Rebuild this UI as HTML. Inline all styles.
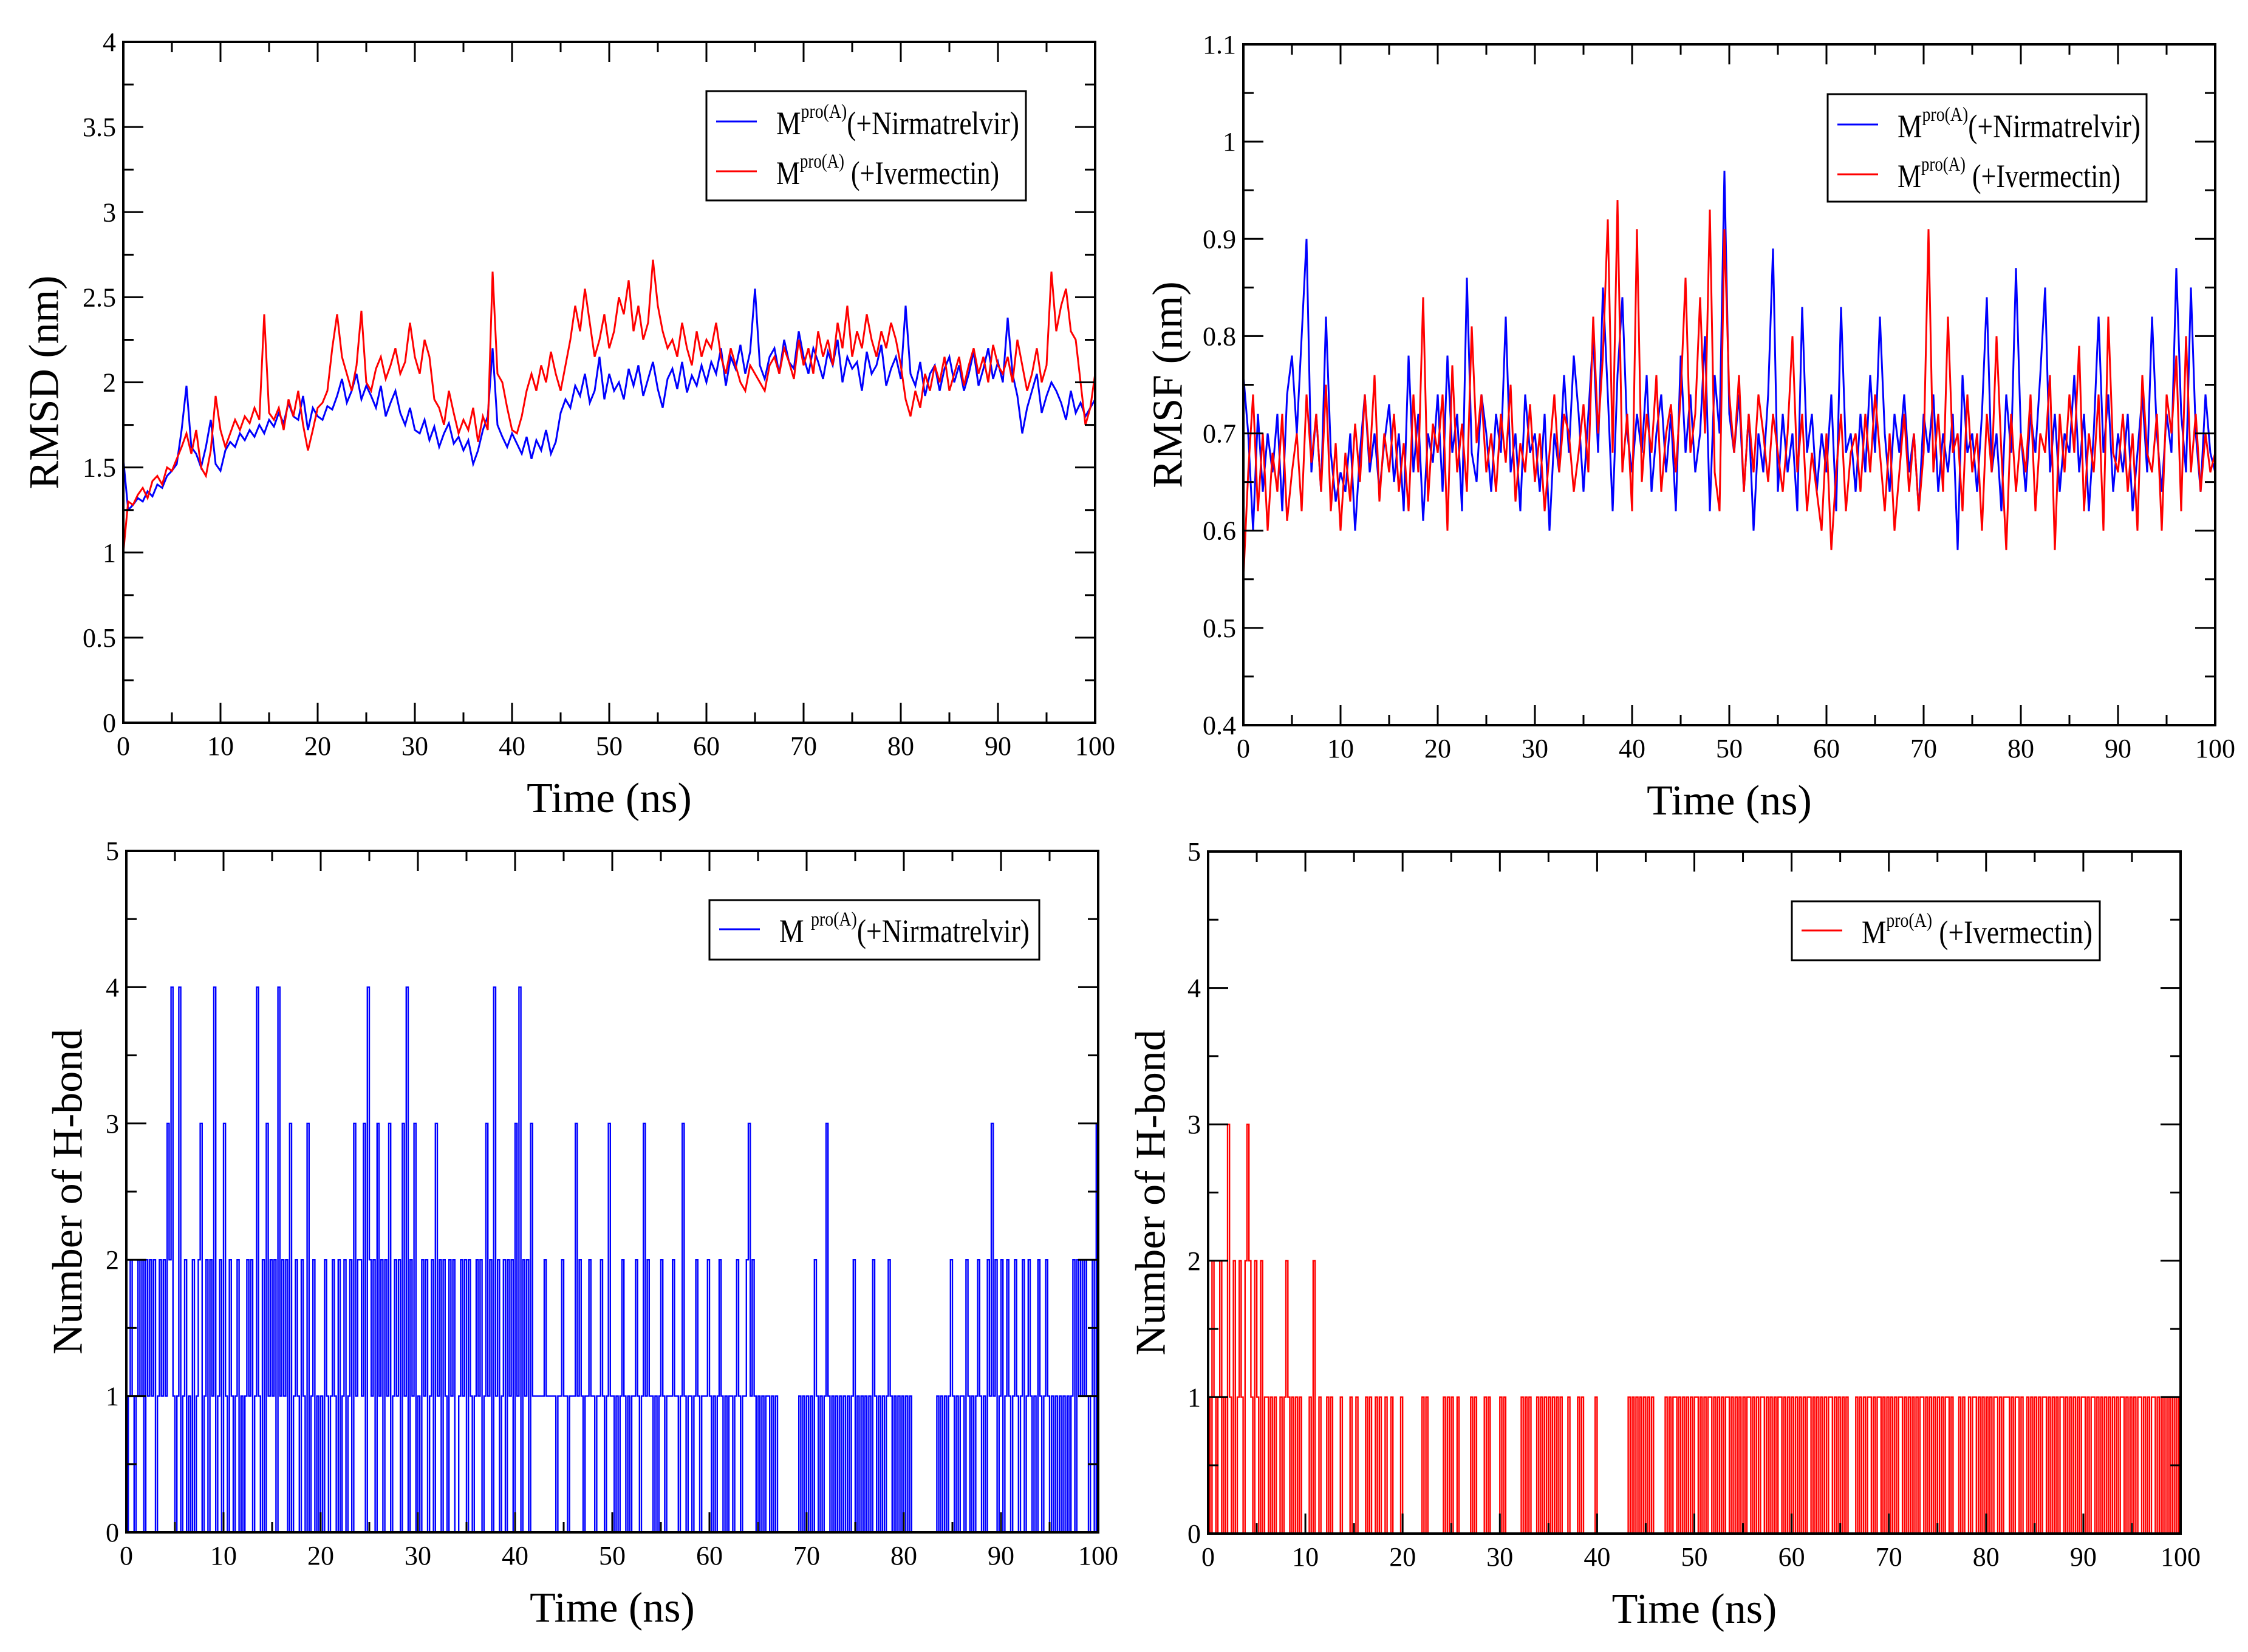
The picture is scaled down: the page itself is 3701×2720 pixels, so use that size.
<!DOCTYPE html>
<html><head><meta charset="utf-8"><style>
html,body{margin:0;padding:0;background:#fff}
svg{display:block}
text{font-family:"Liberation Serif",serif;fill:#000}
</style></head><body>
<svg id="fig" xmlns="http://www.w3.org/2000/svg" width="3701" height="2720" viewBox="0 0 3701 2720">
<rect width="3701" height="2720" fill="#fff"/>
</svg>
<script>
const rmsdNirma=[1.55,1.25,1.28,1.32,1.30,1.36,1.33,1.40,1.38,1.45,1.48,
1.52,1.72,1.98,1.62,1.58,1.50,1.62,1.78,1.52,1.48,
1.60,1.65,1.62,1.70,1.66,1.72,1.68,1.75,1.70,1.78,
1.74,1.82,1.76,1.88,1.80,1.78,1.92,1.72,1.85,1.80,
1.78,1.86,1.84,1.92,2.02,1.88,1.95,2.05,1.90,1.98,
1.92,1.85,1.98,1.80,1.88,1.95,1.82,1.75,1.85,1.72,
1.70,1.78,1.66,1.74,1.62,1.70,1.76,1.64,1.68,1.60,
1.66,1.52,1.60,1.72,1.80,2.20,1.75,1.68,1.62,1.70,
1.64,1.58,1.68,1.55,1.66,1.60,1.72,1.58,1.65,1.82,
1.90,1.85,1.98,1.92,2.05,1.88,1.95,2.15,1.90,2.05,
1.95,2.00,1.90,2.08,1.98,2.10,1.92,2.02,2.12,1.96,
1.85,2.02,2.08,1.96,2.12,1.94,2.04,1.98,2.10,2.00,
2.12,2.05,2.20,1.98,2.15,2.08,2.22,2.05,2.18,2.55,
2.10,2.02,2.15,2.20,2.05,2.25,2.12,2.08,2.30,2.15,
2.05,2.20,2.12,2.02,2.18,2.10,2.25,2.00,2.15,2.08,
2.12,1.95,2.18,2.05,2.10,2.22,1.98,2.08,2.15,2.02,
2.45,2.05,1.98,2.12,1.92,2.05,2.10,1.95,2.08,2.15,
2.00,2.10,1.95,2.05,2.18,1.98,2.08,2.20,2.02,2.12,
2.00,2.38,2.05,1.92,1.70,1.85,1.95,2.05,1.82,1.92,
2.00,1.95,1.88,1.78,1.95,1.82,1.88,1.80,1.85,1.90];
const rmsdIver=[1.00,1.30,1.28,1.34,1.38,1.32,1.42,1.45,1.40,1.50,1.48,
1.55,1.62,1.70,1.58,1.72,1.50,1.45,1.60,1.92,1.72,
1.62,1.70,1.78,1.72,1.80,1.76,1.85,1.78,2.40,1.82,
1.78,1.85,1.72,1.90,1.80,1.95,1.75,1.60,1.72,1.85,
1.88,1.95,2.20,2.40,2.15,2.05,1.95,2.10,2.42,2.00,
1.95,2.08,2.15,2.02,2.10,2.20,2.05,2.12,2.35,2.15,
2.05,2.25,2.15,1.90,1.85,1.75,1.95,1.82,1.70,1.78,
1.72,1.85,1.65,1.80,1.72,2.65,2.05,2.00,1.85,1.72,
1.70,1.80,1.95,2.05,1.95,2.10,2.00,2.18,2.05,1.95,
2.10,2.25,2.45,2.30,2.55,2.35,2.15,2.25,2.40,2.20,
2.30,2.50,2.40,2.60,2.30,2.45,2.25,2.35,2.72,2.45,
2.30,2.20,2.25,2.15,2.35,2.20,2.10,2.30,2.15,2.25,
2.20,2.35,2.15,2.05,2.20,2.10,2.00,1.95,2.10,2.05,
2.00,1.95,2.10,2.15,2.05,2.20,2.12,2.02,2.25,2.10,
2.20,2.05,2.30,2.15,2.25,2.10,2.35,2.20,2.45,2.15,
2.30,2.20,2.40,2.25,2.15,2.30,2.20,2.35,2.25,2.10,
1.90,1.80,1.95,1.85,2.05,1.95,2.10,2.00,2.15,1.95,
2.05,2.15,1.98,2.10,2.20,2.05,2.15,2.00,2.22,2.10,
2.05,2.15,2.00,2.25,2.10,1.95,2.05,2.20,2.00,2.10,
2.65,2.30,2.45,2.55,2.30,2.25,2.00,1.75,1.85,2.05];
const rmsfNirma=[0.76,0.70,0.60,0.72,0.64,0.70,0.66,0.72,0.62,0.74,0.78,
0.70,0.80,0.90,0.66,0.72,0.64,0.82,0.68,0.63,0.66,
0.64,0.70,0.60,0.68,0.74,0.66,0.70,0.64,0.69,0.73,
0.65,0.70,0.62,0.78,0.66,0.72,0.61,0.70,0.67,0.74,
0.64,0.78,0.68,0.72,0.62,0.86,0.68,0.65,0.74,0.70,
0.64,0.72,0.68,0.82,0.66,0.70,0.62,0.74,0.68,0.70,
0.64,0.72,0.60,0.70,0.66,0.76,0.68,0.78,0.72,0.64,
0.72,0.80,0.68,0.85,0.74,0.62,0.76,0.84,0.70,0.66,
0.72,0.68,0.76,0.64,0.70,0.74,0.66,0.72,0.62,0.78,
0.68,0.74,0.66,0.70,0.80,0.62,0.76,0.70,0.97,0.72,
0.68,0.74,0.64,0.72,0.60,0.70,0.66,0.74,0.89,0.64,
0.72,0.66,0.70,0.62,0.83,0.68,0.72,0.64,0.70,0.66,
0.74,0.62,0.83,0.68,0.70,0.64,0.72,0.66,0.76,0.68,
0.82,0.70,0.64,0.72,0.68,0.74,0.66,0.70,0.62,0.72,
0.68,0.74,0.64,0.70,0.66,0.72,0.58,0.76,0.68,0.70,
0.64,0.72,0.84,0.66,0.70,0.62,0.74,0.68,0.87,0.70,
0.64,0.72,0.68,0.76,0.85,0.66,0.72,0.64,0.70,0.68,
0.76,0.66,0.72,0.62,0.70,0.82,0.68,0.74,0.64,0.70,
0.66,0.72,0.62,0.68,0.74,0.66,0.82,0.70,0.64,0.72,
0.68,0.87,0.72,0.66,0.85,0.70,0.64,0.74,0.68,0.66];
const rmsfIver=[0.55,0.66,0.74,0.62,0.70,0.60,0.68,0.64,0.72,0.61,0.66,
0.70,0.62,0.74,0.67,0.72,0.64,0.75,0.62,0.69,0.60,
0.68,0.63,0.71,0.65,0.74,0.67,0.76,0.63,0.70,0.66,
0.72,0.64,0.69,0.62,0.74,0.66,0.84,0.63,0.71,0.68,
0.74,0.60,0.77,0.66,0.71,0.64,0.81,0.69,0.74,0.66,
0.70,0.64,0.72,0.67,0.75,0.63,0.69,0.66,0.73,0.65,
0.70,0.62,0.68,0.74,0.66,0.72,0.70,0.64,0.68,0.73,
0.66,0.82,0.70,0.78,0.92,0.68,0.94,0.66,0.72,0.62,
0.91,0.65,0.72,0.68,0.76,0.64,0.70,0.73,0.66,0.74,
0.86,0.68,0.72,0.84,0.70,0.93,0.66,0.62,0.91,0.74,
0.68,0.76,0.64,0.72,0.66,0.74,0.70,0.65,0.72,0.68,
0.64,0.70,0.80,0.66,0.72,0.62,0.68,0.64,0.60,0.70,
0.58,0.66,0.72,0.62,0.68,0.70,0.64,0.72,0.66,0.74,
0.68,0.62,0.70,0.60,0.66,0.72,0.64,0.70,0.62,0.68,
0.91,0.66,0.72,0.64,0.82,0.68,0.70,0.62,0.74,0.66,
0.70,0.60,0.72,0.66,0.80,0.68,0.58,0.72,0.64,0.70,
0.66,0.74,0.62,0.70,0.68,0.76,0.58,0.72,0.66,0.74,
0.68,0.79,0.62,0.70,0.66,0.74,0.60,0.82,0.68,0.66,
0.72,0.64,0.70,0.60,0.76,0.68,0.66,0.72,0.60,0.74,
0.70,0.78,0.62,0.80,0.66,0.72,0.64,0.70,0.66,0.68];
const hbondNirma=("0121012120 2121201212 1324101401 2010201230 1202140120 3102101201 0121201410 2031212041 2120301210 2103012010 "+
"1021012102 0120120312 2130421203 1202130121 2031402130 1021201203 1202102120 0121202101 2120131204 1201202120 "+
"3140212031 1111121111 1011211011 1312101121 1011210131 1010121010 1121013121 1010121011 1211013101 1012101112 "+
"1010121010 1101210112 3121010101 1010100000 0000001010 1010210101 3101010101 0101201010 1010210101 0121010101 "+
"0101000000 0000000101 0101210101 1021010121 0102131201 2012101210 1201210102 1012101010 1010101202 1212101203").replace(/ /g,'').split('').map(Number);
const hbondIver=("1021012010 3102012102 3210210201 1010100101 2101010100 0010200100 0101000010 0001001000 0101001010 0100100001 "+
"0000000000 1010000000 0101010010 0000010100 0010100000 1010000000 0101010001 0101010101 0100010000 1010000001 "+
"0000000000 0000001010 1010101010 0000010101 1010101010 1101010110 1010101101 0101010110 1010110101 0101101010 "+
"1010101011 0101010101 1010101010 0001010101 1010110101 0101011010 1010101101 0101010101 1010001010 0101101010 "+
"1010110101 1101011010 0101010101 1010101011 0101010101 1010110101 0101010101 1010101011 0101011010 1010101010").replace(/ /g,'').split('').map(Number);
const xTickLabels=["0","10","20","30","40","50","60","70","80","90","100"];
const rmsdTickLabels=["0","0.5","1","1.5","2","2.5","3","3.5","4"];
const rmsfTickLabels=["0.4","0.5","0.6","0.7","0.8","0.9","1","1.1"];
const hbTickLabels=["0","1","2","3","4","5"];

const NS="http://www.w3.org/2000/svg";
const svg=document.getElementById('fig');
function mk(tag,attrs,parent){const e=document.createElementNS(NS,tag);for(const k in attrs)e.setAttribute(k,attrs[k]);(parent||svg).appendChild(e);return e;}

function panel(cfg){
  const g=mk('g',{});
  
  
  const {L,R,T,B,ymin,ymax}=cfg;
  const sx=v=>L+(v-0)/(100-0)*(R-L);
  const sy=v=>B-(v-ymin)/(ymax-ymin)*(B-T);
  const cid='clip-'+cfg.name;
  const cp=mk('clipPath',{id:cid},g);mk('rect',{x:L,y:T,width:R-L,height:B-T},cp);
  cfg.series.forEach(s=>{
    const n=s.data.length, step=100/(n-1);
    let d='';
    if(s.step){
      const w=100/n;
      s.data.forEach((v,i)=>{const x0=sx(i*w),x1=sx((i+1)*w),y=sy(v);d+=(i?'L':'M')+x0.toFixed(1)+','+y.toFixed(1)+'L'+x1.toFixed(1)+','+y.toFixed(1);});
    } else {
      s.data.forEach((v,i)=>{d+=(i?'L':'M')+sx(i*step).toFixed(1)+','+sy(v).toFixed(1);});
    }
    const p=mk('path',{d:d,fill:'none',stroke:s.color,'stroke-width':s.step?2.4:3,'clip-path':'url(#'+cid+')'},g);
    
    
  });
  const tk=mk('g',{stroke:'#000','stroke-width':3},g);
  
  
  for(let v=0;v<=100;v+=5){const maj=v%10===0,len=maj?33:17,x=sx(v);
    mk('line',{x1:x,y1:B,x2:x,y2:B-len},tk);mk('line',{x1:x,y1:T,x2:x,y2:T+len},tk);}
  const ny=Math.round((ymax-ymin)/cfg.minor);
  for(let i=0;i<=ny;i++){const v=ymin+i*cfg.minor,maj=i%2===0,len=maj?33:17,y=sy(v);
    mk('line',{x1:L,y1:y,x2:L+len,y2:y},tk);mk('line',{x1:R,y1:y,x2:R-len,y2:y},tk);}
  const fr=mk('rect',{x:L,y:T,width:R-L,height:B-T,fill:'none',stroke:'#000','stroke-width':4},g);
  
  
  xTickLabels.forEach((t,i)=>{const e=mk('text',{x:sx(i*10),y:B+53,'font-size':44,'text-anchor':'middle'},g);e.textContent=t;
    
    });
  cfg.yLabels.forEach((t,i)=>{const e=mk('text',{x:L-12,y:sy(ymin+i*cfg.minor*2)+15,'font-size':44,'text-anchor':'end'},g);e.textContent=t;
    
    });
  const xt=mk('text',{x:(L+R)/2,y:B+147,'font-size':70,'text-anchor':'middle'},g);xt.textContent='Time (ns)';
  
  
  const yc=(T+B)/2;
  const yt=mk('text',{x:cfg.ytx,y:yc,'font-size':70,'text-anchor':'middle','dominant-baseline':'central',transform:'rotate(-90 '+cfg.ytx+' '+yc+')'},g);yt.textContent=cfg.ytitle;
  
  
  const lg=mk('g',{},g);
  
  
  const lb=cfg.legend;
  mk('rect',{x:lb.x,y:lb.y,width:lb.w,height:lb.h,fill:'#fff',stroke:'#000','stroke-width':3},lg);
  lb.items.forEach((it,i)=>{
    const ly=lb.y+lb.first+i*82;
    const ln=mk('line',{x1:lb.x+16,x2:lb.x+83,y1:ly,y2:ly,stroke:it.color,'stroke-width':3},lg);
    
    
    const t=mk('text',{x:lb.x+115,y:ly+21,'font-size':54,textLength:it.len,lengthAdjust:'spacingAndGlyphs'},lg);
    
    
    const a=mk('tspan',{},t);a.textContent='M'+(it.space?' ':'');
    const b=mk('tspan',{dy:-27,'font-size':33},t);b.textContent='pro(A)';
    const c=mk('tspan',{dy:27},t);c.textContent=(it.gap?' ':'')+it.label;
  });
}

panel({name:'rmsd-panel',L:203,R:1803,T:69,B:1190,ymin:0,ymax:4,minor:0.25,yLabels:rmsdTickLabels,ytitle:'RMSD (nm)',ytx:73,
  series:[{name:'rmsd-nirmatrelvir-line',data:rmsdNirma,color:'#0000ff'},{name:'rmsd-ivermectin-line',data:rmsdIver,color:'#ff0000'}],
  legend:{x:1163,y:150,w:526,h:180,first:50,items:[{color:'#0000ff',label:'(+Nirmatrelvir)',len:400},{color:'#ff0000',label:'(+Ivermectin)',gap:true,len:367}]}});
panel({name:'rmsf-panel',L:2047,R:3647,T:73,B:1194,ymin:0.4,ymax:1.1,minor:0.05,yLabels:rmsfTickLabels,ytitle:'RMSF (nm)',ytx:1923,
  series:[{name:'rmsf-nirmatrelvir-line',data:rmsfNirma,color:'#0000ff'},{name:'rmsf-ivermectin-line',data:rmsfIver,color:'#ff0000'}],
  legend:{x:3009,y:155,w:525,h:177,first:50,items:[{color:'#0000ff',label:'(+Nirmatrelvir)',len:400},{color:'#ff0000',label:'(+Ivermectin)',gap:true,len:367}]}});
panel({name:'hbond-nirmatrelvir-panel',L:208,R:1808,T:1401,B:2523,ymin:0,ymax:5,minor:0.5,yLabels:hbTickLabels,ytitle:'Number of H-bond',ytx:112,
  series:[{name:'hbond-nirmatrelvir-line',data:hbondNirma,color:'#0000ff',step:true}],
  legend:{x:1168,y:1482,w:543,h:98,first:48,items:[{color:'#0000ff',label:'(+Nirmatrelvir)',space:true,len:412}]}});
panel({name:'hbond-ivermectin-panel',L:1989,R:3590,T:1402,B:2525,ymin:0,ymax:5,minor:0.5,yLabels:hbTickLabels,ytitle:'Number of H-bond',ytx:1895,
  series:[{name:'hbond-ivermectin-line',data:hbondIver,color:'#ff0000',step:true}],
  legend:{x:2950,y:1484,w:507,h:97,first:48,items:[{color:'#ff0000',label:'(+Ivermectin)',gap:true,len:380}]}});
</script>
</body></html>
